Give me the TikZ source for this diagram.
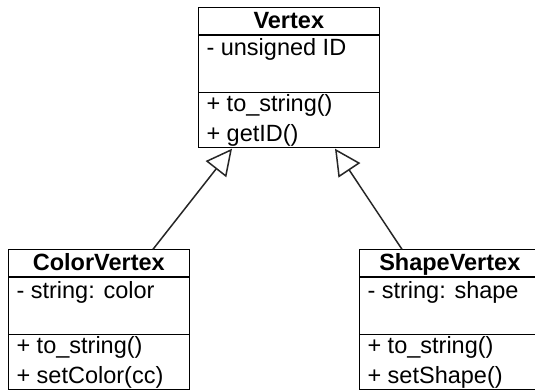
\documentclass[tikz,border=0pt]{standalone}
\usepackage{fontspec}
\setmainfont{Liberation Sans}
\usetikzlibrary{arrows.meta,calc}
\begin{document}
\begin{tikzpicture}[x=1pt,y=-1pt,
  classbox/.style={draw=black,line width=1.5pt,fill=white,rectangle,inner sep=0pt,outer sep=0pt,
    minimum width=181pt,minimum height=140.4pt,anchor=north west},
  divider/.style={draw=black,line width=1.5pt},
  txt/.style={anchor=base west,inner sep=0pt,font=\fontsize{23.5}{27}\selectfont},
  ttl/.style={anchor=base,inner sep=0pt,font=\fontsize{23.5}{27}\selectfont\bfseries},
  inherit/.style={draw=black!85,line width=1.5pt,-{Triangle[open,length=26pt,width=26pt]}}]
\clip (0,0) rectangle (535,390);
\fill[white] (0,0) rectangle (535,390);
% Vertex
\node[classbox] (vertex) at (198.3,7.3) {};
\coordinate (va) at ($(vertex.north west)+(0,27.7)$);
\coordinate (vb) at ($(vertex.north west)+(0,85)$);
\draw[divider] (va) -- (va -| vertex.east);
\draw[divider] (vb) -- (vb -| vertex.east);
\node[ttl] (vt) at ($(vertex.north)+(0,21)$) {Vertex};
\node[txt] (v1) at ($(vertex.north west)+(8,48.7)$) {- unsigned ID};
\node[txt] (v2) at ($(vertex.north west)+(8,104.5)$) {+ to\_string()};
\node[txt] (v3) at ($(vertex.north west)+(8,134)$) {+ getID()};
% ColorVertex
\node[classbox] (color) at (8.3,249.3) {};
\coordinate (ca) at ($(color.north west)+(0,27.7)$);
\coordinate (cb) at ($(color.north west)+(0,85)$);
\draw[divider] (ca) -- (ca -| color.east);
\draw[divider] (cb) -- (cb -| color.east);
\node[ttl] (ct) at ($(color.north)+(0,21)$) {ColorVertex};
\node[txt] (c1) at ($(color.north west)+(8,48.7)$) {- string: color};
\node[txt] (c2) at ($(color.north west)+(8,104.5)$) {+ to\_string()};
\node[txt] (c3) at ($(color.north west)+(8,134)$) {+ setColor(cc)};
% ShapeVertex
\node[classbox] (shape) at (359.3,249.3) {};
\coordinate (sa) at ($(shape.north west)+(0,27.7)$);
\coordinate (sb) at ($(shape.north west)+(0,85)$);
\draw[divider] (sa) -- (sa -| shape.east);
\draw[divider] (sb) -- (sb -| shape.east);
\node[ttl] (st) at ($(shape.north)+(0,21)$) {ShapeVertex};
\node[txt] (s1) at ($(shape.north west)+(8,48.7)$) {- string: shape};
\node[txt] (s2) at ($(shape.north west)+(8,104.5)$) {+ to\_string()};
\node[txt] (s3) at ($(shape.north west)+(8,134)$) {+ setShape()};
% inheritance
\coordinate (cfrom) at ($(color.north west)+(144.7,0)$);
\coordinate (cto) at ($(vertex.south west)+(33.7,1)$);
\coordinate (sfrom) at ($(shape.north west)+(42.7,0)$);
\coordinate (sto) at ($(vertex.south west)+(136.7,1)$);
\draw[inherit] (cfrom) -- (cto);
\draw[inherit] (sfrom) -- (sto);
\end{tikzpicture}
\end{document}
